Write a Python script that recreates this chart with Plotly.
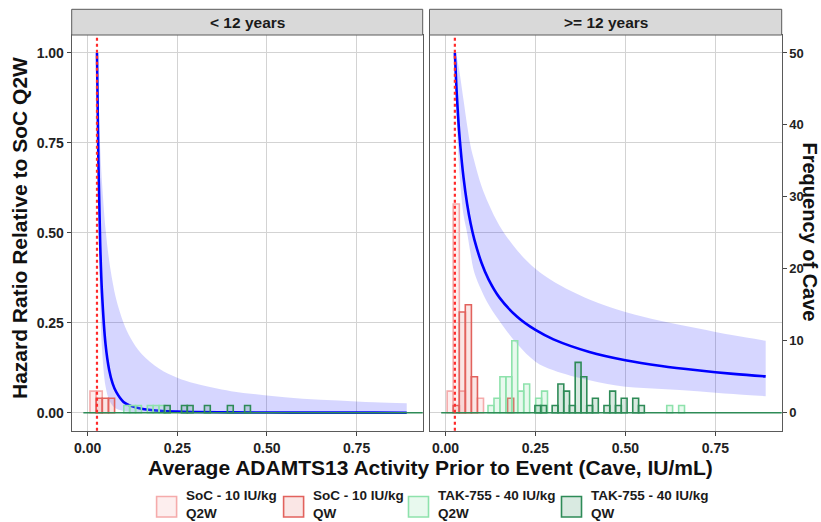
import plotly.graph_objects as go

# ---------------- data ----------------
panel_titles = ["< 12 years", ">= 12 years"]
threshold_cave = 0.026

cave_grid = [0.026, 0.03, 0.035, 0.04, 0.05, 0.06, 0.07, 0.08, 0.10, 0.12, 0.15,
             0.20, 0.25, 0.30, 0.40, 0.50, 0.60, 0.70, 0.80, 0.89]

hr_lt12 = [1.0, 0.694, 0.469, 0.333, 0.189, 0.119, 0.080, 0.057, 0.030, 0.019, 0.011,
           0.0055, 0.0031, 0.0020, 0.0009, 0.0005, 0.0003, 0.0002, 0.0002, 0.0001]
hr_lt12_upper = [1.0, 0.863, 0.736, 0.641, 0.510, 0.423, 0.361, 0.314, 0.250, 0.207, 0.164,
                 0.122, 0.097, 0.081, 0.060, 0.048, 0.039, 0.034, 0.029, 0.026]
hr_lt12_lower = [1.0, 0.564, 0.305, 0.178, 0.073, 0.035, 0.019, 0.011, 0.0046, 0.002, 0.001,
                 0.0005, 0.0002, 0.0001, 0.0, 0.0, 0.0, 0.0, 0.0, 0.0]

hr_ge12 = [1.0, 0.911, 0.824, 0.756, 0.654, 0.581, 0.525, 0.482, 0.417, 0.370, 0.320,
           0.266, 0.230, 0.204, 0.169, 0.146, 0.130, 0.118, 0.108, 0.101]
hr_ge12_upper = [1.0, 0.99, 0.97, 0.94, 0.87, 0.80, 0.74, 0.70, 0.63, 0.58, 0.52,
                 0.45, 0.40, 0.365, 0.315, 0.28, 0.255, 0.235, 0.215, 0.20]
hr_ge12_lower = [1.0, 0.85, 0.73, 0.65, 0.55, 0.50, 0.44, 0.39, 0.34, 0.30, 0.255,
                 0.19, 0.142, 0.118, 0.09, 0.072, 0.066, 0.06, 0.052, 0.046]

series_names = ["SoC - 10 IU/kg Q2W", "SoC - 10 IU/kg QW",
                "TAK-755 - 40 IU/kg Q2W", "TAK-755 - 40 IU/kg QW"]

# histogram bins (centres, counts) per panel and series
lt12_soc_q2w_x = [0.0150, 0.0322]
lt12_soc_q2w_n = [3, 3]
lt12_soc_qw_x = [0.0322, 0.0494, 0.0666]
lt12_soc_qw_n = [2, 2, 2]
lt12_tak_q2w_x = [0.1090, 0.1254, 0.1418, 0.1746, 0.1910, 0.2074]
lt12_tak_q2w_n = [1, 1, 1, 1, 1, 1]
lt12_tak_qw_x = [0.2219, 0.2699, 0.2859, 0.3339, 0.3979, 0.4459]
lt12_tak_qw_n = [1, 1, 1, 1, 1, 1]

ge12_soc_q2w_x = [0.0131, 0.0299, 0.0467, 0.0971]
ge12_soc_q2w_n = [3, 29, 3, 2]
ge12_soc_qw_x = [0.0299, 0.0467, 0.0635, 0.0803, 0.1811]
ge12_soc_qw_n = [1, 14, 15, 5, 2]
ge12_tak_q2w_x = [0.1263, 0.1429, 0.1594, 0.1760, 0.1925, 0.2091, 0.2257, 0.2588, 0.2753,
                  0.6231, 0.6562]
ge12_tak_q2w_n = [1, 2, 5, 5, 10, 3, 4, 2, 3, 1, 1]
ge12_tak_qw_x = [0.2566, 0.2726, 0.3046, 0.3206, 0.3366, 0.3526, 0.3686, 0.3846, 0.4006,
                 0.4166, 0.4486, 0.4646, 0.4806, 0.4966, 0.5286, 0.5446]
ge12_tak_qw_n = [1, 1, 1, 4, 3, 1, 7, 5, 1, 2, 1, 3, 1, 2, 2, 1]

bin_width_soc = 0.0170
bin_width_tak = 0.0163
baseline_x = [-0.012, 0.94]
baseline_n = [0, 0]

x_ticks = [0, 0.25, 0.5, 0.75]
x_ticklabels = ["0.00", "0.25", "0.50", "0.75"]
y_ticks = [0, 0.25, 0.5, 0.75, 1.0]
y_ticklabels = ["0.00", "0.25", "0.50", "0.75", "1.00"]
freq_ticks = [0, 10, 20, 30, 40, 50]

# ---------------- style ----------------
W, H = 821, 522
FONT = "Liberation Sans"
outline = ["#F5ABAB", "#E2625D", "#8EE2AC", "#2E8B57"]
fill = ["rgba(245,171,171,0.20)", "rgba(226,98,93,0.16)",
        "rgba(142,226,172,0.20)", "rgba(46,139,87,0.18)"]
band_fill = "rgba(0,0,255,0.16)"
grid_c = "#D3D3D3"
border_c = "#5A5A5A"


def fx(p):
    return p / W


def fy(p):
    return 1 - p / H


left_dom = [fx(71.7), fx(422.7)]
right_dom = [fx(429.5), fx(781.7)]
y_dom = [fy(430.7), fy(35.0)]
x_range = [-0.0445, 0.9345]
y_range = [-0.05, 1.05]
f_range = [-2.5, 52.5]

fig = go.Figure()


def add_band(xa, ya, upper, lower, mid):
    fig.add_trace(go.Scatter(
        x=cave_grid, y=upper, mode="lines", line=dict(width=0, shape="spline"),
        hoverinfo="skip", showlegend=False, xaxis=xa, yaxis=ya))
    fig.add_trace(go.Scatter(
        x=cave_grid, y=lower, mode="lines", line=dict(width=0, shape="spline"),
        fill="tonexty", fillcolor=band_fill,
        hoverinfo="skip", showlegend=False, xaxis=xa, yaxis=ya))
    fig.add_trace(go.Scatter(
        x=cave_grid, y=mid, mode="lines",
        line=dict(color="#0000FF", width=2.6, shape="spline"),
        showlegend=False, xaxis=xa, yaxis=ya))


add_band("x", "y", hr_lt12_upper, hr_lt12_lower, hr_lt12)
add_band("x2", "y2", hr_ge12_upper, hr_ge12_lower, hr_ge12)


def add_bars(xa, ya, xs, ns, idx, width):
    fig.add_trace(go.Bar(
        x=xs, y=ns, width=width, name=series_names[idx],
        marker=dict(color=fill[idx], line=dict(color=outline[idx], width=1.6)),
        showlegend=False, xaxis=xa, yaxis=ya))


panel_hists = [
    ("x", "y4", [(lt12_soc_q2w_x, lt12_soc_q2w_n), (lt12_soc_qw_x, lt12_soc_qw_n),
                 (lt12_tak_q2w_x, lt12_tak_q2w_n), (lt12_tak_qw_x, lt12_tak_qw_n)]),
    ("x2", "y3", [(ge12_soc_q2w_x, ge12_soc_q2w_n), (ge12_soc_qw_x, ge12_soc_qw_n),
                  (ge12_tak_q2w_x, ge12_tak_q2w_n), (ge12_tak_qw_x, ge12_tak_qw_n)]),
]
for xa, ya, groups in panel_hists:
    for i, (xs, ns) in enumerate(groups):
        add_bars(xa, ya, xs, ns, i, bin_width_soc if i < 2 else bin_width_tak)
    fig.add_trace(go.Scatter(x=baseline_x, y=baseline_n, mode="lines",
                             line=dict(color="#2E8B57", width=1.6),
                             showlegend=False, xaxis=xa, yaxis=ya, hoverinfo="skip"))

tickfont = dict(family=FONT, size=14, color="#222222", weight="bold")
rtickfont = dict(family=FONT, size=13, color="#222222", weight="bold")
common_x = dict(range=x_range, tickvals=x_ticks, ticktext=x_ticklabels,
                showgrid=True, gridcolor=grid_c, gridwidth=1, zeroline=False,
                ticks="outside", ticklen=4, tickcolor="#444", tickwidth=1,
                showline=True, mirror=True, linecolor=border_c, linewidth=1,
                tickfont=tickfont)
common_y = dict(range=y_range, domain=y_dom, tickvals=y_ticks, ticktext=y_ticklabels,
                showgrid=True, gridcolor=grid_c, gridwidth=1, zeroline=False,
                showline=True, mirror=True, linecolor=border_c, linewidth=1,
                tickfont=tickfont)

fig.update_layout(
    width=W, height=H, margin=dict(l=0, r=0, t=0, b=0),
    paper_bgcolor="white", plot_bgcolor="white", barmode="overlay",
    showlegend=False,
    xaxis=dict(domain=left_dom, anchor="y", **common_x),
    xaxis2=dict(domain=right_dom, anchor="y2", **common_x),
    yaxis=dict(anchor="x", ticks="outside", ticklen=4, tickcolor="#444", **common_y),
    yaxis2=dict(anchor="x2", ticks="", showticklabels=False, **common_y),
    yaxis3=dict(overlaying="y2", anchor="x2", side="right", range=f_range,
                tickvals=freq_ticks, showgrid=False, zeroline=False,
                ticks="outside", ticklen=4, tickcolor="#444", tickfont=rtickfont),
    yaxis4=dict(overlaying="y", anchor="x", range=f_range, visible=False,
                showgrid=False, zeroline=False),
)

shapes = []
annotations = []
# threshold lines
for xr in ["x", "x2"]:
    shapes.append(dict(type="line", xref=xr, yref=("y" if xr == "x" else "y2") + " domain",
                       x0=threshold_cave, x1=threshold_cave, y0=0, y1=1, layer="above",
                       line=dict(color="#FF2A2A", width=2.2, dash="3px,3px")))

# strips
for dom, title in zip([left_dom, right_dom], panel_titles):
    shapes.append(dict(type="rect", xref="paper", yref="paper",
                       x0=dom[0], x1=dom[1], y0=fy(35.0), y1=fy(9.3),
                       fillcolor="#D9D9D9", line=dict(color=border_c, width=1)))
    annotations.append(dict(xref="paper", yref="paper", x=(dom[0] + dom[1]) / 2,
                            y=fy(22.3), text=title, showarrow=False,
                            xanchor="center", yanchor="middle",
                            font=dict(family=FONT, size=15.5, color="#1a1a1a",
                                      weight="bold")))

title_font = dict(family=FONT, size=21, color="#111111", weight="bold")
annotations.append(dict(xref="paper", yref="paper", x=fx(430), y=fy(467),
                        text="Average ADAMTS13 Activity Prior to Event (Cave, IU/mL)",
                        showarrow=False, xanchor="center", yanchor="middle", font=title_font))
annotations.append(dict(xref="paper", yref="paper", x=fx(19), y=fy(228),
                        text="Hazard Ratio Relative to SoC Q2W", textangle=-90,
                        showarrow=False, xanchor="center", yanchor="middle", font=title_font))
annotations.append(dict(xref="paper", yref="paper", x=fx(809.5), y=fy(232),
                        text="Frequency of Cave", textangle=90, borderpad=0,
                        showarrow=False, xanchor="center", yanchor="middle",
                        font=dict(family=FONT, size=20, color="#111111", weight="bold")))

# legend (manual)
legend_keys = [156.6, 283.6, 408.5, 561.5]
legend_labels = ["SoC - 10 IU/kg<br>Q2W", "SoC - 10 IU/kg<br>QW",
                 "TAK-755 - 40 IU/kg<br>Q2W", "TAK-755 - 40 IU/kg<br>QW"]
leg_font = dict(family=FONT, size=13.5, color="#1a1a1a", weight="bold")
for i, kx in enumerate(legend_keys):
    shapes.append(dict(type="rect", xref="paper", yref="paper",
                       x0=fx(kx), x1=fx(kx + 20), y0=fy(517), y1=fy(496.5),
                       fillcolor=fill[i], line=dict(color=outline[i], width=1.6)))
    annotations.append(dict(xref="paper", yref="paper", x=fx(kx + 28), y=fy(521.5),
                            text=legend_labels[i], showarrow=False, xanchor="left",
                            yanchor="bottom", align="left", borderpad=0,
                            font=leg_font))

fig.update_layout(shapes=shapes, annotations=annotations)
fig.write_html("out.html")
